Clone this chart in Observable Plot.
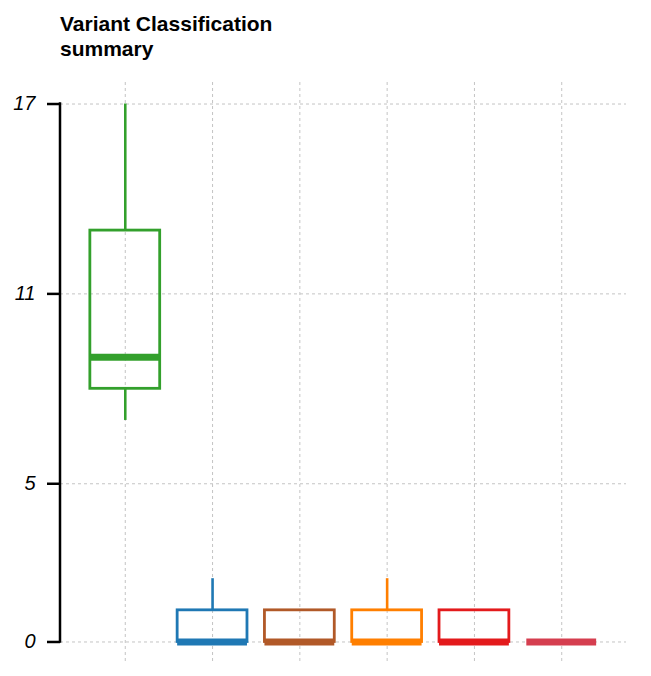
<!DOCTYPE html>
<html>
<head>
<meta charset="utf-8">
<script src="https://cdn.jsdelivr.net/npm/d3@7"></script>
<script src="https://cdn.jsdelivr.net/npm/@observablehq/plot@0.6"></script>
<style>
  html, body { margin: 0; padding: 0; background: #fff; }
  #title {
    font-family: "Liberation Sans", Arial, Helvetica, sans-serif;
    font-weight: bold; font-size: 21px; line-height: 25px;
    padding: 11px 0 0 60px; height: 70px; box-sizing: border-box; color: #000;
  }
  #chart svg { display: block; }
</style>
</head>
<body>
<div id="title">Variant Classification<br>summary</div>
<div id="chart"></div>
<script>
const categories = ["Missense_Mutation", "Frame_Shift_Del", "In_Frame_Del", "Splice_Site", "Nonsense_Mutation", "In_Frame_Ins"];
const colors = ["#33A02C", "#1F78B4", "#B15928", "#FF7F00", "#E31A1C", "#D53E4F"];
const mins = [7, 0, 0, 0, 0, 0];
const q1s = [8, 0, 0, 0, 0, 0];
const medians = [9, 0, 0, 0, 0, 0];
const q3s = [13, 1, 1, 1, 1, 0];
const maxs = [17, 2, 1, 2, 1, 0];
const yTicks = [0, 5, 11, 17];

const data = categories.map((c, i) => ({
  cat: c, color: colors[i], min: mins[i], q1: q1s[i], median: medians[i], q3: q3s[i], max: maxs[i]
}));

const gridStyle = { stroke: "#c4c4c4", strokeOpacity: 1, strokeWidth: 1, strokeDasharray: "3,3" };

const plot = Plot.plot({
  width: 651,
  height: 606,
  marginLeft: 60,
  marginRight: 25,
  marginTop: 12,
  marginBottom: 13,
  style: { fontFamily: "Liberation Sans, Arial, Helvetica, sans-serif", background: "#fff" },
  x: { type: "band", domain: categories, paddingInner: 0.2, paddingOuter: 0.342, align: 0.5, round: false, axis: null },
  y: { domain: [-0.68, 17.68], label: null },
  color: { type: "identity" },
  marks: [
    Plot.gridY(yTicks, gridStyle),
    Plot.gridX(categories, gridStyle),
    Plot.ruleX(data, { x: "cat", y1: "q3", y2: "max", stroke: "color", strokeWidth: 2.6 }),
    Plot.ruleX(data, { x: "cat", y1: "min", y2: "q1", stroke: "color", strokeWidth: 2.6 }),
    Plot.barY(data, { x: "cat", y1: "q1", y2: "q3", fill: "none", stroke: "color", strokeWidth: 2.8 }),
    Plot.tickY(data, { x: "cat", y: "median", stroke: "color", strokeWidth: 7 }),
    Plot.axisY(yTicks, {
      label: null, tickSize: 13, tickPadding: 12, fontSize: 20, fontStyle: "italic",
      stroke: "#000", strokeWidth: 2.5, fill: "#000"
    })
  ]
});

document.getElementById("chart").appendChild(plot);

// y axis line spanning only the tick range (0 to 17)
const ys = plot.scale("y");
d3.select(plot).append("line")
  .attr("x1", 60).attr("x2", 60)
  .attr("y1", ys.apply(d3.min(yTicks))).attr("y2", ys.apply(d3.max(yTicks)))
  .attr("stroke", "#000").attr("stroke-width", 2.5).attr("stroke-linecap", "square");
</script>
</body>
</html>
